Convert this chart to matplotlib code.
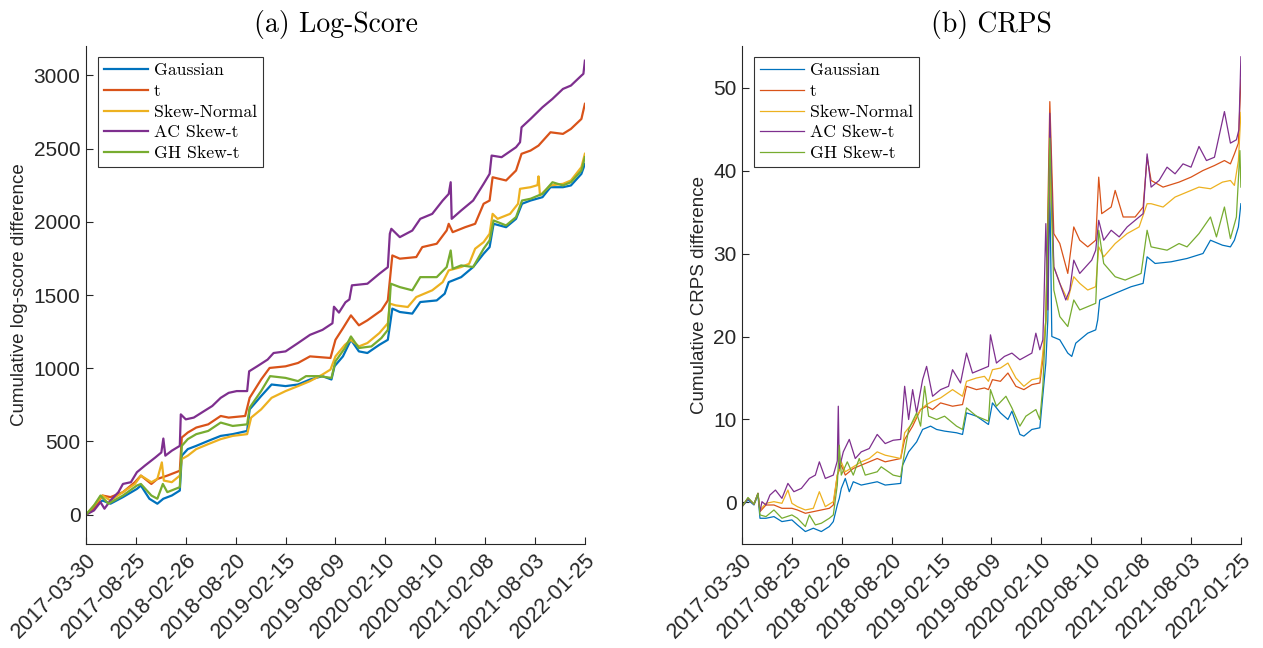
import matplotlib
matplotlib.use("Agg")
import matplotlib.pyplot as plt

# ---------------- data ----------------
tick_pos = [0, 100, 200, 300, 400, 500, 600, 700, 800, 900, 1000]
tick_labels = ["2017-03-30", "2017-08-25", "2018-02-26", "2018-08-20", "2019-02-15",
               "2019-08-09", "2020-02-10", "2020-08-10", "2021-02-08", "2021-08-03",
               "2022-01-25"]
series_names = ["Gaussian", "t", "Skew-Normal", "AC Skew-t", "GH Skew-t"]

# (a) Log-score: (observation index, cumulative log-score difference)
ls_gaussian = [(0,0),(16,52),(33,97),(49,75),(74,120),(102,176),(110,199),(127,109),(143,75),(155,109),(172,131),(188,165),(192,403),(204,448),(221,470),(245,504),(270,538),(294,550),(323,572),(328,719),(351,810),(372,889),(400,878),(425,889),(449,923),(474,946),(492,923),(498,1013),(515,1081),(531,1194),(547,1115),(564,1104),(588,1160),(605,1194),(614,1407),(629,1384),(654,1373),(670,1452),(703,1463),(719,1509),(727,1588),(752,1622),(776,1691),(797,1782),(809,1827),(817,1986),(842,1963),(862,2020),(874,2123),(891,2145),(915,2168),(931,2236),(956,2236),(972,2248),(993,2327),(1000,2395)]
ls_t = [(0,0),(16,41),(33,131),(49,120),(74,154),(98,222),(110,267),(131,210),(143,244),(163,267),(188,300),(192,527),(204,561),(221,595),(245,617),(270,674),(286,663),(319,674),(328,798),(351,923),(368,1002),(400,1013),(425,1036),(449,1081),(490,1070),(500,1194),(515,1273),(531,1361),(547,1293),(564,1327),(592,1395),(605,1463),(614,1770),(629,1748),(662,1759),(674,1827),(703,1850),(723,1941),(727,1986),(735,1929),(760,1963),(780,1986),(797,2123),(809,2145),(815,2304),(842,2282),(862,2350),(873,2464),(891,2486),(907,2520),(931,2611),(956,2600),(972,2634),(993,2702),(1000,2805)]
ls_skewnormal = [(0,0),(16,63),(33,131),(49,97),(74,154),(98,210),(110,267),(131,222),(143,244),(152,357),(156,233),(172,222),(188,267),(192,380),(204,403),(221,448),(245,482),(270,516),(294,538),(323,550),(331,663),(351,719),(372,798),(400,844),(425,878),(449,912),(474,957),(490,991),(500,1081),(519,1160),(531,1194),(547,1149),(564,1172),(588,1240),(605,1307),(609,1441),(621,1429),(645,1418),(662,1486),(694,1532),(715,1588),(727,1668),(752,1691),(768,1713),(780,1816),(797,1861),(809,1918),(815,2054),(825,2020),(850,2054),(866,2123),(870,2225),(891,2236),(905,2250),(907,2310),(910,2180),(931,2248),(956,2259),(972,2282),(993,2373),(1000,2464)]
ls_acskewt = [(0,0),(16,29),(29,86),(37,41),(49,97),(65,154),(74,210),(90,222),(102,290),(118,335),(139,391),(151,425),(155,520),(159,403),(172,437),(188,470),(190,685),(200,651),(216,663),(237,708),(253,742),(270,798),(286,832),(302,844),(323,844),(327,979),(343,1013),(364,1059),(376,1104),(400,1115),(425,1172),(449,1228),(474,1262),(494,1307),(497,1420),(507,1380),(520,1450),(528,1470),(533,1566),(564,1577),(588,1645),(605,1690),(609,1918),(612,1952),(629,1895),(654,1940),(670,2020),(694,2054),(715,2145),(727,2190),(731,2270),(733,2020),(752,2077),(776,2145),(797,2259),(809,2327),(813,2452),(833,2441),(862,2509),(870,2543),(873,2645),(891,2702),(915,2782),(935,2839),(956,2907),(972,2930),(993,2998),(997,3010),(1000,3100)]
ls_ghskewt = [(0,0),(16,63),(29,131),(45,75),(74,131),(102,199),(110,210),(131,131),(143,109),(154,210),(163,154),(188,188),(192,470),(204,516),(221,550),(245,572),(270,629),(294,606),(323,617),(328,731),(351,844),(369,946),(400,934),(425,912),(441,946),(466,946),(492,934),(500,1047),(519,1138),(531,1217),(547,1138),(572,1149),(592,1206),(605,1262),(611,1577),(629,1554),(654,1532),(670,1622),(703,1622),(723,1691),(731,1804),(735,1679),(752,1702),(776,1691),(797,1816),(809,1873),(817,2009),(842,1975),(862,2032),(874,2145),(891,2157),(915,2191),(935,2270),(956,2248),(972,2270),(993,2350),(1000,2441)]

# (b) CRPS: (observation index, cumulative CRPS difference)
crps_gaussian = [(0,-0.5),(12,0.3),(24,-0.3),(32,0.9),(36,-1.9),(48,-1.9),(64,-1.7),(80,-2.3),(100,-2.1),(111,-2.7),(127,-3.5),(143,-3.1),(159,-3.5),(175,-2.9),(183,-2.3),(191,-0.3),(195,0.5),(199,1.7),(207,2.9),(215,1.3),(223,2.5),(239,2.1),(255,2.3),(271,2.5),(287,2.1),(318,2.3),(322,4.5),(334,6.1),(350,7.3),(362,8.8),(378,9.2),(390,8.8),(406,8.6),(430,8.4),(442,8.2),(450,10.8),(470,10.4),(494,9.4),(502,12.0),(518,10.8),(533,10.0),(541,11.0),(557,8.2),(565,8.0),(581,8.8),(597,9.0),(601,11.6),(609,16.8),(613,22.0),(617,38.0),(621,20.0),(637,19.6),(653,18.0),(661,17.6),(669,19.2),(693,20.4),(709,20.8),(713,22.0),(717,24.4),(748,25.2),(780,26.0),(804,26.4),(812,29.6),(828,28.8),(860,29.0),(892,29.4),(924,30.0),(939,31.6),(963,31.0),(979,30.8),(987,31.6),(995,33.2),(1000,36.0)]
crps_t = [(0,-0.5),(12,0.5),(24,-0.2),(32,1.1),(36,-1.1),(48,-0.3),(64,-0.3),(80,-0.7),(100,-0.7),(111,-0.9),(127,-1.3),(143,-1.1),(159,-0.9),(175,-0.7),(183,-0.3),(191,3.3),(199,4.5),(207,3.3),(223,4.1),(239,4.5),(255,4.9),(271,5.3),(287,4.9),(318,5.3),(326,7.6),(342,9.2),(358,11.2),(370,11.6),(382,11.2),(398,12.0),(422,11.6),(442,11.8),(450,14.0),(470,13.6),(486,13.8),(494,13.6),(502,14.8),(518,14.6),(533,15.6),(549,14.0),(565,13.6),(581,14.2),(597,14.4),(603,17.2),(609,22.0),(617,48.3),(625,32.4),(637,31.2),(653,27.6),(665,33.2),(677,31.6),(693,30.8),(709,31.6),(715,39.2),(721,34.8),(740,35.6),(748,37.6),(764,34.4),(788,34.4),(804,35.6),(812,41.6),(820,38.8),(844,38.0),(876,38.6),(900,39.2),(924,40.0),(947,40.6),(967,41.2),(979,40.8),(987,42.0),(995,43.3),(1000,51.0)]
crps_skewnormal = [(0,-0.5),(12,0.5),(24,-0.2),(32,1.1),(36,-0.9),(48,-0.1),(64,0.1),(80,-0.1),(92,1.5),(100,-0.1),(111,-0.5),(127,-0.9),(143,-0.7),(155,1.3),(167,-0.5),(183,0.1),(191,3.3),(199,4.9),(207,3.7),(223,4.3),(239,4.9),(255,5.3),(271,6.1),(287,5.7),(318,5.3),(326,8.4),(342,9.6),(358,11.2),(370,11.8),(382,12.2),(398,12.6),(422,13.6),(442,12.8),(450,14.6),(470,15.0),(486,15.2),(494,14.6),(502,16.0),(518,16.2),(533,16.8),(549,15.0),(565,14.0),(581,14.8),(597,15.0),(603,18.0),(609,22.0),(617,40.0),(625,28.4),(637,26.4),(653,24.4),(665,27.2),(677,26.4),(693,25.6),(709,26.0),(715,30.8),(725,29.6),(748,31.2),(772,32.4),(796,33.2),(812,36.0),(820,36.0),(844,35.6),(868,36.8),(892,37.4),(916,38.0),(939,37.8),(963,38.6),(979,38.8),(987,38.2),(995,41.2),(1000,47.0)]
crps_acskewt = [(0,-0.5),(12,0.5),(24,-0.2),(32,1.1),(36,-1.1),(40,0.1),(48,-0.3),(56,0.9),(67,1.5),(80,0.5),(92,2.3),(104,1.3),(119,1.7),(135,2.9),(147,3.3),(155,4.9),(167,2.9),(183,3.3),(191,5.0),(193,11.6),(195,4.1),(203,6.1),(215,7.6),(227,5.3),(239,6.1),(255,6.5),(271,8.2),(287,7.1),(303,7.5),(318,7.6),(326,14.0),(334,10.0),(342,13.6),(350,10.8),(362,14.8),(370,16.4),(382,12.8),(398,13.6),(414,14.0),(422,16.0),(438,14.4),(450,18.0),(462,15.6),(478,16.0),(494,16.4),(498,20.2),(510,16.8),(526,17.6),(541,18.0),(557,17.2),(569,17.6),(581,18.0),(589,20.4),(597,18.4),(603,19.6),(605,23.6),(609,33.6),(613,23.2),(617,46.9),(625,28.4),(637,26.4),(649,24.4),(657,25.6),(665,29.2),(677,27.6),(689,28.4),(701,29.2),(709,30.4),(715,34.0),(725,31.6),(740,32.8),(756,32.0),(772,33.2),(788,34.0),(804,34.8),(812,42.0),(820,38.0),(836,38.8),(852,40.4),(868,39.6),(884,40.8),(900,40.4),(916,42.9),(931,41.2),(947,41.6),(967,47.1),(979,43.3),(991,43.7),(996,44.9),(1000,53.7)]
crps_ghskewt = [(0,-0.5),(12,0.6),(24,-0.2),(32,1.1),(36,-1.5),(48,-1.7),(64,-0.9),(80,-1.9),(100,-1.5),(111,-1.9),(127,-2.9),(135,-1.5),(147,-2.7),(159,-2.5),(175,-1.9),(183,-1.5),(191,2.1),(195,6.9),(199,3.3),(211,4.9),(223,3.3),(235,5.3),(247,3.3),(271,3.7),(279,4.3),(303,3.3),(318,3.1),(326,6.1),(334,8.8),(350,10.8),(358,9.2),(366,14.0),(374,10.4),(390,10.0),(406,10.4),(430,9.2),(442,8.8),(450,11.4),(470,10.4),(494,9.8),(498,13.6),(510,11.6),(529,12.8),(541,11.4),(557,9.2),(569,10.4),(589,11.2),(597,10.0),(603,14.0),(609,22.0),(617,43.9),(625,25.6),(637,22.4),(653,21.2),(665,24.4),(677,23.2),(693,23.6),(709,24.0),(715,32.8),(725,28.8),(748,27.2),(768,26.8),(800,27.6),(812,32.8),(820,30.8),(852,30.4),(876,31.2),(892,30.8),(916,32.4),(939,34.4),(951,32.0),(967,35.6),(979,31.8),(991,34.4),(998,42.4),(1000,38.0)]

ls_series = [ls_gaussian, ls_t, ls_skewnormal, ls_acskewt, ls_ghskewt]
crps_series = [crps_gaussian, crps_t, crps_skewnormal, crps_acskewt, crps_ghskewt]

# ---------------- style ----------------
colors = ["#0072BD", "#D95319", "#EDB120", "#7E2F8E", "#77AC30"]
axis_color = "#262626"
serif_font = "cmr10"

plt.rcParams["font.family"] = ["Liberation Sans", "DejaVu Sans"]

fig = plt.figure(figsize=(12.63, 6.48), dpi=100)
ax1 = fig.add_axes([0.0681, 0.1605, 0.395, 0.7685])
ax2 = fig.add_axes([0.5875, 0.1605, 0.395, 0.7685])


def style_axes(ax, ylim, yticks, ylabel, title, lw, series):
    for s, c, name in zip(series, colors, series_names):
        xs = [p[0] for p in s]
        ys = [p[1] for p in s]
        ax.plot(xs, ys, color=c, lw=lw, label=name)
    ax.set_xlim(tick_pos[0], tick_pos[-1])
    ax.set_ylim(*ylim)
    ax.set_yticks(yticks)
    ax.set_xticks(tick_pos)
    ax.set_xticklabels(tick_labels, rotation=45, ha="right", rotation_mode="anchor",
                       fontsize=15.5)
    for sp in ["top", "right"]:
        ax.spines[sp].set_visible(False)
    for sp in ["left", "bottom"]:
        ax.spines[sp].set_color(axis_color)
        ax.spines[sp].set_linewidth(0.8)
    ax.tick_params(direction="in", length=5, width=0.8, colors=axis_color,
                   labelsize=15, labelcolor=axis_color, pad=4)
    ax.tick_params(axis="x", labelsize=15.5)
    ax.set_ylabel(ylabel, fontsize=13.5, color=axis_color, labelpad=4)
    ax.set_title(title, fontsize=20, family=serif_font, pad=10)
    leg = ax.legend(loc="upper left", bbox_to_anchor=(0.024, 0.978), borderaxespad=0,
                    prop={"family": serif_font, "size": 12.7}, frameon=True, fancybox=False,
                    edgecolor="black", handlelength=2.5, handletextpad=0.3,
                    labelspacing=0.3, borderpad=0.35)
    leg.get_frame().set_linewidth(0.8)
    for line in leg.get_lines():
        line.set_linewidth(lw)


style_axes(ax1, (-200, 3200), [0, 500, 1000, 1500, 2000, 2500, 3000],
           "Cumulative log-score difference", "(a) Log-Score", 1.6, ls_series)
style_axes(ax2, (-5, 55), [0, 10, 20, 30, 40, 50],
           "Cumulative CRPS difference", "(b) CRPS", 0.9, crps_series)

fig.savefig("out.png", dpi=100)
